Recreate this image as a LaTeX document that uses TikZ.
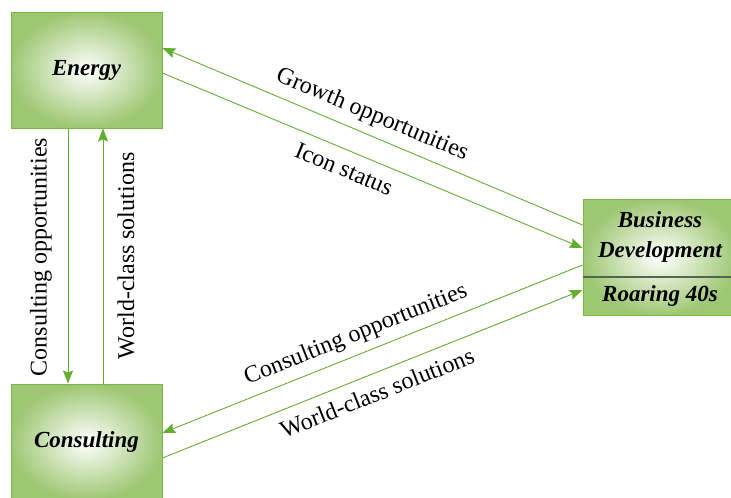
\documentclass[tikz,border=0pt]{standalone}
\usepackage{fontspec}
\setmainfont{Liberation Serif}
\usetikzlibrary{arrows.meta}
\definecolor{boxgreen}{RGB}{158,199,115}
\definecolor{boxborder}{RGB}{122,184,72}
\definecolor{arrgreen}{RGB}{98,174,48}
\definecolor{divider}{RGB}{85,100,80}
\begin{document}
\begin{tikzpicture}[x=1pt,y=-1pt,
  box/.style={draw=boxborder, line width=0.9pt, inner color=white, outer color=boxgreen,
    minimum width=151pt, minimum height=116pt, inner sep=0pt,
    font=\fontsize{23}{30}\selectfont\bfseries\itshape},
  boxtext/.style={inner sep=0pt, align=center, font=\fontsize{23}{30}\selectfont\bfseries\itshape},
  arr/.style={draw=arrgreen, line width=0.9pt, -{Stealth[length=13pt,width=10pt,inset=2pt]}},
  lbl/.style={inner sep=0pt, font=\fontsize{24}{28}\selectfont}]
\useasboundingbox (0,0) rectangle (731,498);
\clip (0,0) rectangle (731,498);

\node[box] (en) at (86.5,70) {Energy};
\node[box] (co) at (86.5,442) {Consulting};
\node[box, minimum width=154pt] (biz) at (660,257) {};
\node[boxtext] (bd) at (660,237) {Business\\Development};
\node[boxtext] (ro) at (660,296) {Roaring 40s};
\coordinate (dl) at (583,277);
\coordinate (dr) at (737,277);
\draw[divider, line width=1.6pt] (dl) -- (dr);

% Energy <-> Business
\draw[arr] ([yshift=32pt]biz.west) -- ([yshift=22pt]en.east);
\draw[arr] ([yshift=-3pt]en.east) -- ([yshift=9pt]biz.west);
% Business <-> Consulting
\draw[arr] ([yshift=-8pt]biz.west) -- ([yshift=9pt]co.east);
\draw[arr] ([yshift=-16pt]co.east) -- ([yshift=-33pt]biz.west);
% Energy <-> Consulting
\draw[arr] ([xshift=-18.5pt]en.south) -- ([xshift=-18.5pt]co.north);
\draw[arr] ([xshift=16.5pt]co.north) -- ([xshift=16.5pt]en.south);

% labels
\node[lbl, rotate=-22.8] (l1) at (372,115) {Growth opportunities};
\node[lbl, rotate=-22.7] (l2) at (344,169) {Icon status};
\node[lbl, rotate=21.8] (l3) at (356,335) {Consulting opportunities};
\node[lbl, rotate=21.8] (l4) at (377,393) {World-class solutions};
\node[lbl, rotate=90] (l5) at (41,257) {Consulting opportunities};
\node[lbl, rotate=90] (l6) at (126,256) {World-class solutions};
\end{tikzpicture}
\end{document}
